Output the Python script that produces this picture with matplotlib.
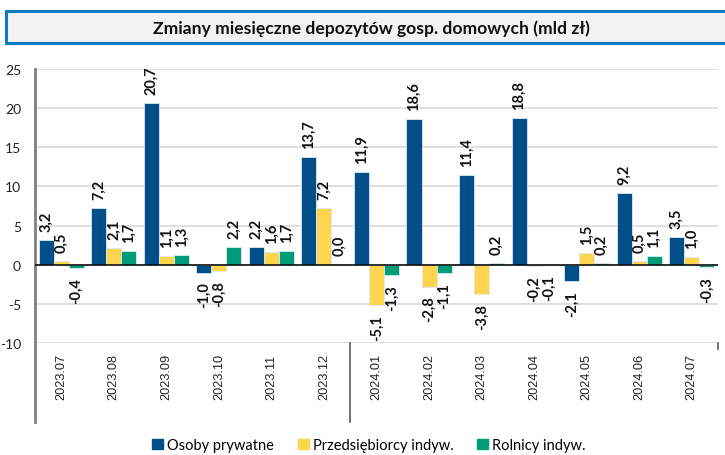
import matplotlib
matplotlib.use("Agg")
import matplotlib.pyplot as plt
from matplotlib.patches import Rectangle
from matplotlib.lines import Line2D
from matplotlib.transforms import blended_transform_factory
import numpy as np

plt.rcParams['font.family'] = ['Lato', 'DejaVu Sans']

categories = ["2023.07", "2023.08", "2023.09", "2023.10", "2023.11", "2023.12",
              "2024.01", "2024.02", "2024.03", "2024.04", "2024.05", "2024.06", "2024.07"]
osoby = [3.2, 7.2, 20.7, -1.0, 2.2, 13.7, 11.9, 18.6, 11.4, 18.8, -2.1, 9.2, 3.5]
przeds = [0.5, 2.1, 1.1, -0.8, 1.6, 7.2, -5.1, -2.8, -3.8, -0.2, 1.5, 0.5, 1.0]
rolnicy = [-0.4, 1.7, 1.3, 2.2, 1.7, 0.04, -1.3, -1.1, 0.2, -0.1, 0.2, 1.1, -0.3]
series_names = ["Osoby prywatne", "Przedsiębiorcy indyw.", "Rolnicy indyw."]
colors = ["#004F88", "#FFD54F", "#009B77"]
title = "Zmiany miesięczne depozytów gosp. domowych (mld zł)"

W, H = 725, 456
fig = plt.figure(figsize=(W / 100, H / 100), dpi=100)

# title box
fig.patches.append(Rectangle((6 / W, 1 - 44 / H), 725 / W, 32 / H, transform=fig.transFigure,
                             facecolor="#F2F2F2", edgecolor="#0A7CC1", linewidth=2.2))
fig.text(371 / W, 1 - 29 / H, title, ha="center", va="center", fontsize=12.6,
         fontweight="bold", color="#111111")

ax = fig.add_axes([35 / W, 1 - 344 / H, (718 - 35) / W, (344 - 70) / H])
n = len(categories)
x = np.arange(n)
bw = 0.286
data = [osoby, przeds, rolnicy]
for i, (vals, c) in enumerate(zip(data, colors)):
    xs = x + (i - 1) * bw
    ax.bar(xs, vals, width=bw, color=c, edgecolor="#DCE9F5", linewidth=0.6, zorder=3)
    for xi, v in zip(xs, vals):
        txt = f"{v:.1f}".replace(".", ",")
        if v >= 0:
            ax.annotate(txt, (xi, v), xytext=(0, 6.5), textcoords="offset points",
                        rotation=90, ha="center", va="bottom", fontsize=10.5,
                        fontweight="bold", color="#111111", zorder=5)
        else:
            ax.annotate(txt, (xi, v), xytext=(0, -6.5), textcoords="offset points",
                        rotation=90, ha="center", va="top", fontsize=10.5,
                        fontweight="bold", color="#111111", zorder=5)

ax.set_xlim(-0.5, n - 0.5)
ax.set_ylim(-10, 25)
ax.set_yticks(np.arange(-10, 26, 5))
ax.set_yticklabels([str(t) for t in range(-10, 26, 5)], fontsize=10, color="#222222")
ax.tick_params(axis="y", length=0, pad=10)
ax.yaxis.grid(True, color="#D9D9D9", linewidth=1.2, zorder=0)
ax.axhline(0, color="#111111", linewidth=1.2, zorder=4)
for s in ["top", "right", "bottom"]:
    ax.spines[s].set_visible(False)
ax.spines["left"].set_color("#808080")
ax.spines["left"].set_linewidth(2)

ax.set_xticks([])
tr = blended_transform_factory(ax.transData, fig.transFigure)
for xi, lab in zip(x, categories):
    ax.text(xi, 1 - 377 / H, lab, transform=tr, rotation=90, ha="center", va="center",
            fontsize=9.2, family=["Liberation Sans", "DejaVu Sans"], color="#222222",
            clip_on=False)

# category axis separators (below plot)
ext = 79 / (344 - 70)
ax.add_line(Line2D([-0.5, -0.5], [0, -ext], transform=ax.get_xaxis_transform(),
                   color="#808080", linewidth=2, clip_on=False))
ax.add_line(Line2D([5.5, 5.5], [0, -ext], transform=ax.get_xaxis_transform(),
                   color="#595959", linewidth=1.2, clip_on=False))
ax.add_line(Line2D([n - 0.5, n - 0.5], [0, -6 / 274], transform=ax.get_xaxis_transform(),
                   color="#595959", linewidth=1.2, clip_on=False))

handles = [Rectangle((0, 0), 1, 1, color=c) for c in colors]
fig.legend(handles, series_names, loc="center", bbox_to_anchor=(369 / W, 1 - 446 / H),
           ncol=3, frameon=False, fontsize=10.5, handlelength=0.75, handleheight=0.75,
           handletextpad=0.3, columnspacing=1.6)

fig.savefig("out.png", dpi=100)
